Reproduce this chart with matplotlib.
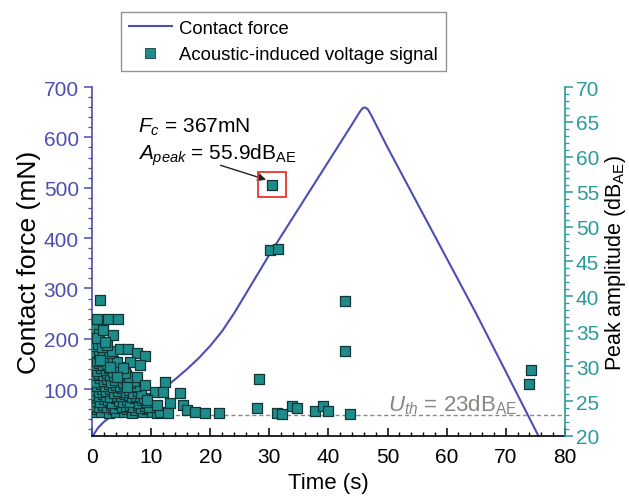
import matplotlib
matplotlib.use("Agg")
import matplotlib.pyplot as plt
from matplotlib.lines import Line2D
from matplotlib.patches import Rectangle
from matplotlib.ticker import MultipleLocator

plt.rcParams['font.family'] = ['Liberation Sans', 'DejaVu Sans']
plt.rcParams['mathtext.fontset'] = 'custom'
plt.rcParams['mathtext.rm'] = 'Liberation Sans'
plt.rcParams['mathtext.it'] = 'Liberation Sans:italic'
plt.rcParams['mathtext.bf'] = 'Liberation Sans:bold'

# contact force curve (s, mN)
force_t = [0, 0.5, 1, 2, 3, 4, 5, 6, 8, 10, 12, 14, 16, 18, 20, 22, 24, 26, 28,
           30, 32, 34, 36, 38, 40, 42, 44, 45, 45.5, 45.9, 46.3, 46.7, 47.2, 50, 55, 60, 65, 70, 75.5]
force_mn = [5, 14, 23, 35, 44, 51, 56, 61, 72, 84, 100, 119, 139, 161, 186, 215, 250, 289, 328,
            367, 404, 441, 478, 515, 552, 589, 626, 645, 654, 659, 659, 655, 645, 580, 470, 360, 250, 135, 8]

# acoustic emission hits (s, dB_AE)
ae_t = [
    # dense cluster, row by row
    0.3, 0.9, 1.6, 2.2, 2.9, 3.5, 4.1, 4.8, 5.4, 6.0, 6.7, 7.3, 8.0, 8.6, 9.3, 10.1, 11.0,
    0.6, 1.2, 1.9, 2.6, 3.2, 3.9, 4.5, 5.1, 5.8, 6.4, 7.0, 7.7, 8.3, 9.0, 9.7,
    0.2, 0.8, 1.4, 2.0, 2.7, 3.3, 4.0, 4.6, 5.2, 5.9, 6.5, 7.2, 7.9, 8.5, 9.2,
    0.5, 1.1, 1.8, 2.4, 3.0, 3.7, 4.3, 4.9, 5.5, 6.2, 6.8, 7.5, 8.1, 8.8,
    0.4, 1.1, 1.7, 2.4, 3.1, 3.8, 4.4, 5.0, 5.7, 6.3, 7.0, 7.7, 8.3,
    0.2, 0.9, 1.5, 2.2, 2.8, 3.5, 4.1, 4.8, 5.4, 6.1, 6.7, 7.4,
    0.1, 0.7, 1.3, 2.0, 2.6, 3.2, 3.9, 4.5, 5.2, 5.8, 6.5, 7.1,
    0.5, 1.2, 1.8, 2.5, 3.1, 3.8, 4.4, 5.1, 5.7, 6.3,
    0.3, 0.9, 1.6, 2.3, 2.9, 3.6, 4.3, 5.0, 5.6,
    0.6, 1.2, 1.9, 2.6, 3.3, 3.9, 4.6,
    0.2, 0.8, 1.5, 2.1, 2.8, 3.5, 4.2,
    0.5, 1.1, 1.8, 2.9, 3.4,
    0.3, 1.0, 1.7, 2.5,
    0.2, 0.6, 1.2, 0.9,
    # upper edge and sparse hits
    1.35, 0.8, 2.7, 4.4, 1.9, 3.6, 2.2, 4.7, 6.1, 7.6, 9.0, 6.4, 8.1, 3.0, 5.2, 1.35,
    7.6, 4.2, 12.4, 9.0, 5.9, 14.9, 10.7, 12.0, 9.3, 13.2, 15.4, 16.1, 17.4, 19.1,
    21.5, 11.5, 12.9, 11.0,
    # later hits
    27.9, 28.3, 30.1, 31.4, 30.5, 31.3, 32.1, 33.8, 34.7, 37.7, 39.1, 39.9,
    42.8, 42.8, 43.7, 73.9, 74.3,
]
ae_db = [
    23.4, 23.9, 23.5, 24.1, 23.3, 23.8, 23.5, 24.0, 23.4, 23.9, 23.3, 23.7, 24.1, 23.4, 23.8, 23.5, 23.3,
    24.3, 24.1, 24.5, 24.2, 24.4, 24.0, 24.6, 24.2, 24.3, 24.5, 24.1, 24.4, 24.0, 24.3, 24.2,
    25.0, 25.4, 24.8, 25.3, 25.1, 24.7, 25.5, 25.0, 24.8, 25.2, 24.9, 25.4, 24.7, 25.1, 24.8,
    25.9, 25.7, 26.0, 25.8, 25.6, 26.1, 25.8, 25.7, 26.0, 25.9, 25.6, 25.8, 25.7, 25.5,
    26.6, 26.3, 26.8, 26.4, 26.7, 26.2, 26.5, 26.9, 26.3, 26.6, 26.2, 26.5, 26.1,
    27.3, 27.1, 27.4, 27.2, 27.5, 27.0, 27.3, 27.2, 27.4, 27.1, 27.0, 27.2,
    28.1, 27.8, 28.3, 27.9, 28.2, 27.7, 28.0, 28.4, 27.8, 28.1, 27.6, 27.9,
    28.8, 28.9, 28.7, 29.0, 28.8, 28.6, 28.9, 28.7, 28.8, 28.5,
    29.6, 29.3, 29.8, 29.4, 29.7, 29.2, 29.5, 29.3, 29.0,
    30.2, 30.4, 30.1, 30.3, 30.0, 30.2, 29.9,
    31.1, 30.7, 31.3, 30.9, 31.2, 30.8, 30.6,
    32.0, 31.8, 32.1, 31.9, 32.2,
    32.9, 33.2, 32.7, 33.0,
    34.8, 35.3, 34.6, 34.0,
    39.5, 36.8, 36.8, 36.8, 35.2, 34.4, 33.4, 32.4, 32.4, 31.9, 31.4, 30.6, 30.2, 29.9, 29.8, 30.9,
    28.5, 28.5, 27.8, 27.3, 27.0, 26.2, 26.3, 26.3, 25.2, 24.7, 24.5, 23.7, 23.4, 23.3,
    23.3, 23.4, 23.3, 24.5,
    24.0, 28.2, 46.7, 46.8, 55.9, 23.3, 23.2, 24.3, 24.0, 23.6, 24.3, 23.6,
    39.4, 32.2, 23.2, 27.4, 29.5,
]

threshold_db = 23

force_color = '#4d4db3'
ae_color = '#1f8c8c'
axis_teal = '#2a9a9a'

fig = plt.figure(figsize=(6.29, 5.02), dpi=100)
ax1 = fig.add_axes([0.1463, 0.1295, 0.7517, 0.6952])
ax2 = ax1.twinx()

ax1.plot(force_t, force_mn, color=force_color, lw=1.5, zorder=2)
ax2.scatter(ae_t, ae_db, marker='s', s=60, facecolor=ae_color, edgecolor='#123535',
            linewidths=0.9, zorder=3)
ax2.axhline(threshold_db, color='#8a8a8a', lw=1.0, ls=(0, (3, 2)), zorder=1)

ax1.set_xlim(0, 80)
ax1.set_ylim(7, 700)
ax2.set_ylim(20, 70)

ax1.xaxis.set_major_locator(MultipleLocator(10))
ax1.xaxis.set_minor_locator(MultipleLocator(2))
ax1.yaxis.set_minor_locator(MultipleLocator(20))
ax1.set_yticks([100, 200, 300, 400, 500, 600, 700])
ax2.yaxis.set_major_locator(MultipleLocator(5))
ax2.yaxis.set_minor_locator(MultipleLocator(1))

for a in (ax1, ax2):
    a.spines['top'].set_visible(False)
ax1.spines['right'].set_visible(False)
ax2.spines['left'].set_visible(False)
ax2.spines['bottom'].set_visible(False)
ax1.spines['left'].set_color(force_color)
ax1.spines['left'].set_linewidth(1.2)
ax2.spines['right'].set_color(axis_teal)
ax2.spines['right'].set_linewidth(1.2)
ax1.spines['bottom'].set_linewidth(1.2)

ax1.tick_params(axis='x', which='both', direction='in', labelsize=15, pad=8)
ax1.tick_params(axis='x', which='major', length=6, width=1.1)
ax1.tick_params(axis='x', which='minor', length=3, width=1.0)
ax1.tick_params(axis='y', which='both', direction='out', color=force_color,
                labelcolor=force_color, labelsize=15)
ax1.tick_params(axis='y', which='major', length=6, width=1.1)
ax1.tick_params(axis='y', which='minor', length=3, width=0.9)
ax2.tick_params(axis='y', which='both', direction='out', color=axis_teal,
                labelcolor=axis_teal, labelsize=15, pad=2)
ax2.tick_params(axis='y', which='major', length=6, width=1.1)
ax2.tick_params(axis='y', which='minor', length=3, width=0.9)

ax1.set_xlabel('Time (s)', fontsize=16, labelpad=4)
ax1.set_ylabel('Contact force (mN)', fontsize=19, labelpad=2)
ax2.set_ylabel(r'Peak amplitude (dB$_{\mathrm{AE}}$)', fontsize=15.5, labelpad=3)

# annotation of the largest hit
ax2.add_patch(Rectangle((28.1, 54.3), 4.7, 3.5, fill=False, edgecolor='#e8342a', lw=1.3, zorder=4))
ax2.annotate('', xy=(29.9, 56.6), xytext=(21.3, 58.9),
             arrowprops=dict(arrowstyle='-|>', color='#222222', lw=1.0, mutation_scale=12))
ax2.text(7.7, 64.4, r'$F_c$ = 367mN', fontsize=15, va='center', ha='left')
ax2.text(7.7, 60.4, r'$A_{peak}$ = 55.9dB$_{\mathrm{AE}}$', fontsize=15, va='center', ha='left')
ax2.text(50.0, 24.6, r'$U_{th}$ = 23dB$_{\mathrm{AE}}$', fontsize=16, color='#8a8580',
         va='center', ha='left')

handles = [Line2D([], [], color=force_color, lw=1.5),
           Line2D([], [], marker='s', ls='', markersize=7, markerfacecolor=ae_color,
                  markeredgecolor='#143a3a', markeredgewidth=0.6)]
leg = fig.legend(handles, ['Contact force', 'Acoustic-induced voltage signal'],
                 loc='upper left', bbox_to_anchor=(0.192, 0.975), fontsize=13.3,
                 frameon=True, fancybox=False, edgecolor='#777777', handlelength=2.3,
                 borderpad=0.45, labelspacing=0.5, handletextpad=0.4, borderaxespad=0)
leg.get_frame().set_linewidth(1.0)

fig.savefig('out.png', dpi=100)
